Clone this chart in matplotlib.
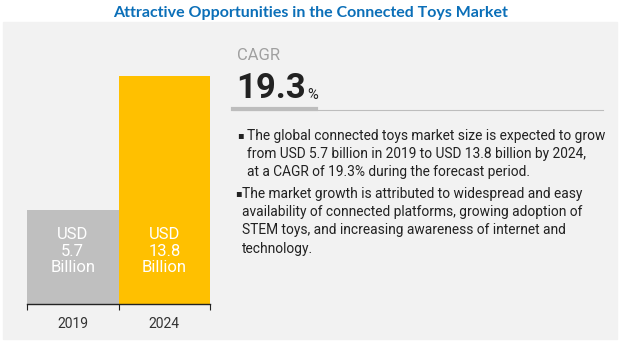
import matplotlib.pyplot as plt
from matplotlib.patches import Rectangle
from matplotlib.lines import Line2D

years = ["2019", "2024"]
market_size = [5.7, 13.8]
bar_colors = ["#BFBFBF", "#FFC000"]
cagr = "19.3"
title = "Attractive Opportunities in the Connected Toys Market"
bullets = [
    "The global connected toys market size is expected to grow\n"
    "from USD 5.7 billion in 2019 to USD 13.8 billion by 2024,\n"
    "at a CAGR of 19.3% during the forecast period.",
    "The market growth is attributed to widespread and easy\n"
    "availability of connected platforms, growing adoption of\n"
    "STEM toys, and increasing awareness of internet and\n"
    "technology.",
]

W, H = 622, 342
fig = plt.figure(figsize=(W / 100, H / 100), dpi=100, facecolor="white")

def fx(px):
    return px / W

def fy(py):
    return 1 - py / H

# grey panel (behind everything)
fig.patches.append(Rectangle((fx(3), fy(339)), fx(614), (339 - 22) / H,
                             transform=fig.transFigure, color="#F2F2F2", zorder=-5))

fig.text(fx(311), fy(13), title, ha="center", va="center", fontsize=11.5,
         fontweight="bold", color="#0B6FB8", family="Lato")

# bar chart
ax = fig.add_axes([fx(27), fy(304), fx(183), (304 - 76) / H])
ax.set_zorder(2)
ax.patch.set_alpha(0)
x = range(len(years))
ax.bar(x, market_size, width=1.0, color=bar_colors, zorder=2)
ax.set_xlim(-0.5, 1.5)
ax.set_ylim(0, max(market_size))
for s in ["top", "left", "right"]:
    ax.spines[s].set_visible(False)
ax.spines["bottom"].set_color("#222222")
ax.spines["bottom"].set_linewidth(1)
ax.spines["bottom"].set_zorder(4)
ax.set_yticks([])
ax.set_xticks([-0.5, 0.5, 1.5])
ax.set_xticklabels([])
ax.tick_params(axis="x", which="major", length=4, color="#222222")
ax.set_xticks(list(x), minor=True)
ax.set_xticklabels(years, minor=True, fontsize=10, color="#333333", family="Roboto")
ax.tick_params(axis="x", which="minor", length=0, pad=9)
for i, v in enumerate(market_size):
    ax.text(i, 3.2, f"USD\n{v}\nBillion", ha="center", va="center", color="white",
            fontsize=12, family="Roboto", linespacing=1.12, zorder=3)

# CAGR block
fig.text(fx(237), fy(55), "CAGR", ha="left", va="center", fontsize=12,
         color="#A0A0A0", family="Roboto")
fig.text(fx(236), fy(88), cagr, ha="left", va="center", fontsize=25,
         fontweight="bold", color="#222222", family="Roboto")
fig.text(fx(307), fy(95), "%", ha="left", va="center", fontsize=10.5,
         color="#222222", family="Roboto")
fig.add_artist(Line2D([fx(233), fx(603)], [fy(110), fy(110)], color="#BDBDBD", lw=0.8))
fig.add_artist(Line2D([fx(233), fx(316)], [fy(109), fy(109)], color="#BDBDBD", lw=3))

# bullet texts
fig.text(fx(237), fy(135), "\u25aa", ha="left", va="center", fontsize=7, color="#222222")
fig.text(fx(247), fy(129), bullets[0], ha="left", va="top", fontsize=9.9,
         color="#222222", family="Roboto", linespacing=1.38)
fig.text(fx(235), fy(193), "\u25aa", ha="left", va="center", fontsize=7, color="#222222")
fig.text(fx(242), fy(187), bullets[1], ha="left", va="top", fontsize=9.9,
         color="#222222", family="Roboto", linespacing=1.38)

fig.savefig("out.png", dpi=100)
